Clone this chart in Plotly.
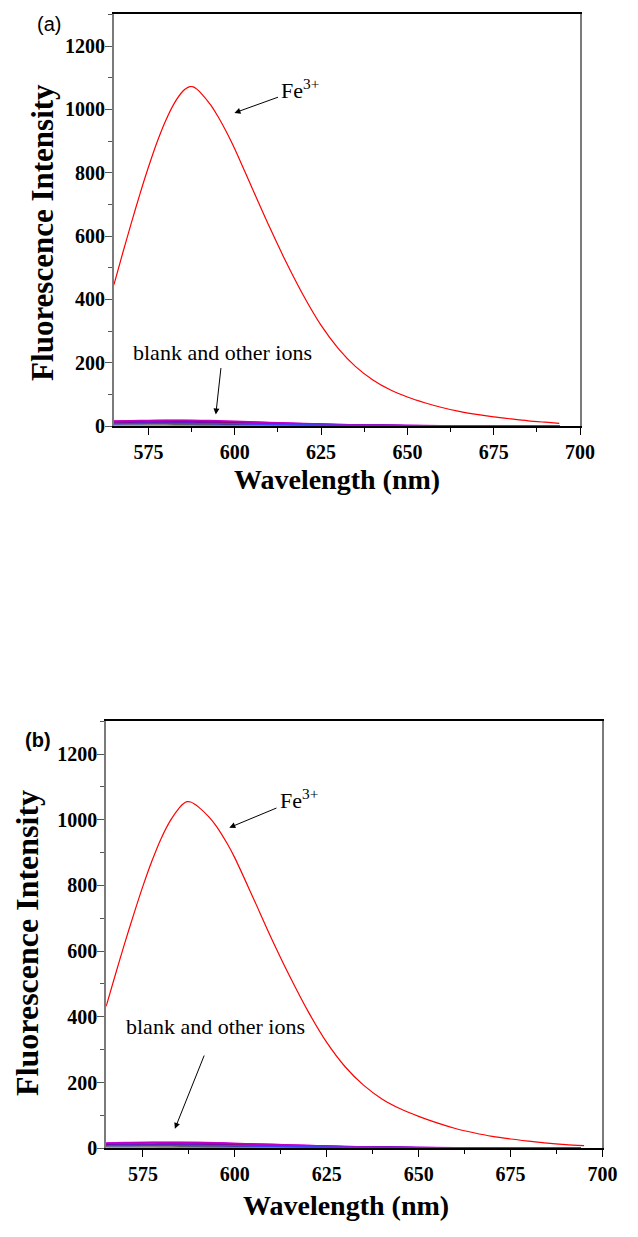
import plotly.graph_objects as go

# ---- Fe3+ emission spectra (nm, a.u.) ----
fe_wl_a = [565, 567.5, 570, 572.5, 575, 577.5, 580, 582.5, 585, 586, 587, 588, 589, 590, 593,
           595, 598, 600, 605, 610, 615, 620, 625, 630, 635, 640, 645, 650, 655, 660, 665,
           670, 675, 680, 685, 690, 694]
fe_int_a = [447, 545, 640, 732, 818, 897, 965, 1020, 1058, 1067, 1072, 1071, 1064, 1054, 1014,
            980, 920, 875, 752, 630, 515, 410, 318, 245, 188, 146, 115, 92, 74, 59, 47,
            37.5, 29.5, 23, 17, 12.5, 9]

fe_wl_b = [565, 567.5, 570, 572.5, 575, 577.5, 580, 582.5, 585, 586, 587, 588, 589, 590, 593,
           595, 598, 600, 605, 610, 615, 620, 625, 630, 635, 640, 645, 650, 655, 660, 665,
           670, 675, 680, 685, 690, 695]
fe_int_b = [432, 528, 622, 712, 798, 876, 944, 998, 1038, 1049, 1055, 1054, 1048, 1040, 1008,
            980, 926, 884, 762, 638, 522, 415, 322, 248, 192, 150, 120, 97, 77, 60, 47,
            36, 28, 21.5, 15.5, 11, 7.6]

# ---- blank and other metal ions ----
ion_wl = [565, 570, 575, 580, 585, 590, 595, 600, 610, 620, 630, 640, 655, 670, 694]
ion_colors = ["#000000", "#FF00FF", "#8000FF", "#0000FF", "#000080", "#FF3030",
              "#808080", "#800080", "#C000C0", "#4040FF"]
ion_names = ["Blank", "Na+", "K+", "Mg2+", "Ca2+", "Zn2+", "Cu2+", "Co2+", "Ni2+", "Mn2+"]

ion_int_a = [
    [6, 6, 6, 6, 5.5, 5, 4.5, 4, 3, 2, 1.2, 0.8, 0.4, 0.2, 0.1],
    [15, 16, 17, 17.5, 17.5, 17, 16, 14, 11, 7.5, 5, 3, 1.5, 0.8, 0.3],
    [14, 15, 15.5, 16, 16, 15.5, 14.5, 13, 10, 7, 4.5, 3, 1.5, 0.8, 0.3],
    [12, 12.5, 13, 13, 13, 12.5, 12, 11, 8.5, 6, 4, 2.5, 1.2, 0.6, 0.2],
    [9, 9.5, 10, 10, 10, 9.5, 9, 8.5, 6.5, 4.5, 3, 2, 1, 0.5, 0.2],
    [11, 11.5, 12, 12, 11.5, 11, 10, 9, 7, 5, 3.2, 2, 1, 0.5, 0.4],
    [4, 4, 4, 4, 3.8, 3.5, 3.2, 3, 2.2, 1.5, 1, 0.6, 0.3, 0.2, 0.1],
    [10, 10.5, 11, 11.5, 11.5, 11, 10.5, 9.5, 7.5, 5.2, 3.5, 2.2, 1.1, 0.6, 0.2],
    [16, 17, 18, 18.5, 18.5, 18, 17, 15, 11.5, 8, 5.2, 3.2, 1.6, 0.8, 0.3],
    [8, 8.5, 9, 9, 9, 8.5, 8, 7.5, 5.8, 4, 2.7, 1.7, 0.9, 0.4, 0.2],
]
ion_int_b = [
    [6, 6, 6, 5.5, 5.5, 5, 4.5, 4, 3, 2, 1.2, 0.8, 0.4, 0.2, 0.1],
    [16, 17, 17.5, 18, 18, 17.5, 16.5, 14.5, 11.5, 8, 5.2, 3.2, 1.6, 0.8, 0.3],
    [14, 15, 15.5, 16, 16, 15.5, 14.5, 13, 10, 7, 4.5, 3, 1.5, 0.8, 0.3],
    [12, 12.5, 13, 13, 13, 12.5, 12, 11, 8.5, 6, 4, 2.5, 1.2, 0.6, 0.2],
    [9, 9.5, 10, 10, 10, 9.5, 9, 8.5, 6.5, 4.5, 3, 2, 1, 0.5, 0.2],
    [12, 12.5, 13, 13, 12.5, 12, 11, 9.5, 7.5, 5.2, 3.4, 2.1, 1, 0.5, 0.4],
    [4, 4, 4, 4, 3.8, 3.5, 3.2, 3, 2.2, 1.5, 1, 0.6, 0.3, 0.2, 0.1],
    [10, 10.5, 11, 11.5, 11.5, 11, 10.5, 9.5, 7.5, 5.2, 3.5, 2.2, 1.1, 0.6, 0.2],
    [15, 16, 17, 17.5, 17.5, 17, 16, 14.5, 11, 7.8, 5, 3.1, 1.5, 0.8, 0.3],
    [8, 8.5, 9, 9, 9, 8.5, 8, 7.5, 5.8, 4, 2.7, 1.7, 0.9, 0.4, 0.2],
]

x_ticks = [575, 600, 625, 650, 675, 700]
y_ticks = [0, 200, 400, 600, 800, 1000, 1200]

W, H = 638, 1237


def px(x):
    return x / W


def py(y):
    return 1 - y / H


SERIF = "Liberation Serif, Times New Roman, serif"
SANS = "Liberation Sans, Arial, sans-serif"

fig = go.Figure()

panels = [
    ("x", "y", fe_wl_a, fe_int_a, ion_int_a),
    ("x2", "y2", fe_wl_b, fe_int_b, ion_int_b),
]
for xa, ya, fwl, fint, ions in panels:
    for name, col, vals in zip(ion_names, ion_colors, ions):
        fig.add_trace(go.Scatter(x=ion_wl, y=vals, mode="lines", name=name,
                                 line=dict(color=col, width=1.6, shape="spline"),
                                 xaxis=xa, yaxis=ya, showlegend=False))
    fig.add_trace(go.Scatter(x=fwl, y=fint, mode="lines", name="Fe3+",
                             line=dict(color="#FF0000", width=1.2, shape="spline",
                                       smoothing=0.8),
                             xaxis=xa, yaxis=ya, showlegend=False))

tickfont = dict(family=SERIF, size=20, color="black", weight="bold")


def xaxis(domain, anchor):
    return dict(domain=domain, anchor=anchor, range=[565, 700], tickvals=x_ticks,
                ticktext=[str(v) for v in x_ticks], ticks="outside", ticklen=7,
                tickwidth=1.2, tickcolor="black",
                minor=dict(dtick=12.5, tick0=575, ticks="outside", ticklen=4,
                           tickcolor="black", tickwidth=1),
                showline=True, linecolor="black", linewidth=1.6, mirror=True,
                showgrid=False, zeroline=False, tickfont=tickfont)


def yaxis(domain, anchor):
    return dict(domain=domain, anchor=anchor, range=[0, 1300], tickvals=y_ticks,
                ticktext=[str(v) for v in y_ticks], ticks="outside", ticklen=7,
                tickwidth=1.2, tickcolor="#555555", ticklabelstandoff=-4,
                minor=dict(dtick=100, tick0=0, ticks="outside", ticklen=4,
                           tickcolor="#555555", tickwidth=1),
                showline=True, linecolor="#7a7a7a", linewidth=1.8, mirror=True,
                showgrid=False, zeroline=False, tickfont=tickfont)


fig.update_layout(
    width=W, height=H, margin=dict(l=0, r=0, t=0, b=0),
    paper_bgcolor="white", plot_bgcolor="white",
    xaxis=xaxis([px(116.7), px(594)], "y"),
    yaxis=yaxis([py(430), py(14.5)], "x"),
    xaxis2=xaxis([px(108.7), px(617)], "y2"),
    yaxis2=yaxis([py(1158.5), py(727.7)], "x2"),
)

ann = []
# axis titles
for cx, cy, txt, ang, size in [
    (345, 484, "Wavelength (nm)", 0, 28),
    (44, 234, "Fluorescence Intensity", -90, 31),
    (354, 1216, "Wavelength (nm)", 0, 28),
    (27, 951, "Fluorescence Intensity", -90, 32),
]:
    ann.append(dict(x=px(cx), y=py(cy), xref="paper", yref="paper", text=txt,
                    textangle=ang, showarrow=False, xanchor="center", yanchor="middle",
                    font=dict(family=SERIF, size=size, color="black", weight="bold")))

# panel labels
ann.append(dict(x=px(50), y=py(24), xref="paper", yref="paper", text="(a)",
                showarrow=False, xanchor="center", yanchor="middle",
                font=dict(family=SANS, size=20, color="black")))
ann.append(dict(x=px(39), y=py(747), xref="paper", yref="paper", text="(b)",
                showarrow=False, xanchor="center", yanchor="middle",
                font=dict(family=SANS, size=20, color="black", weight="bold")))

# spectrum labels with arrows
labels = [
    ("x", "y", "Fe<sup>3+</sup>", 619.0, 1064, 599.9, 989, 2),
    ("x", "y", "blank and other ions", 596.5, 234, 594.5, 37, 2),
    ("x2", "y2", "Fe<sup>3+</sup>", 617.4, 1064, 598.5, 976, 2),
    ("x2", "y2", "blank and other ions", 594.8, 370, 583.7, 59, 16),
]
for xr, yr, txt, tx, ty, hx, hy, so in labels:
    ann.append(dict(x=hx, y=hy, xref=xr, yref=yr, ax=tx, ay=ty, axref=xr, ayref=yr,
                    text=txt, showarrow=True, arrowhead=2, arrowsize=1.2, arrowwidth=1,
                    arrowcolor="black", startstandoff=so,
                    font=dict(family=SERIF, size=22, color="black")))

fig.update_layout(annotations=ann)

fig.write_html("out.html")
